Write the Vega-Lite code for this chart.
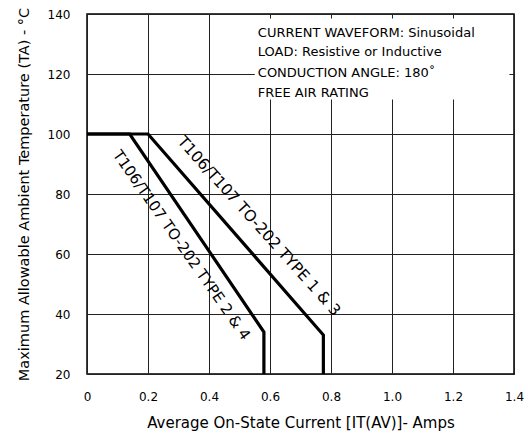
{
  "$schema": "https://vega.github.io/schema/vega-lite/v6.json",
  "autosize": "none",
  "width": 427,
  "height": 360,
  "padding": {"left": 87, "top": 14, "right": 14, "bottom": 63},
  "background": "white",
  "config": {
    "font": "DejaVu Sans",
    "view": {"stroke": "black", "strokeWidth": 1.5},
    "axis": {"gridColor": "#222", "gridOpacity": 1, "gridWidth": 1, "domain": false, "ticks": false, "labelColor": "black", "titleColor": "black", "labelFontSize": 12, "titleFontSize": 14.5, "titleFontWeight": "normal", "labelFlush": false}
  },
  "datasets": {
    "curves": [
      {"series": "Type 1 & 3", "ord": 1, "current": 0, "temp": 100},
      {"series": "Type 1 & 3", "ord": 2, "current": 0.2, "temp": 100},
      {"series": "Type 1 & 3", "ord": 3, "current": 0.775, "temp": 33},
      {"series": "Type 1 & 3", "ord": 4, "current": 0.775, "temp": 20},
      {"series": "Type 2 & 4", "ord": 1, "current": 0, "temp": 100},
      {"series": "Type 2 & 4", "ord": 2, "current": 0.14, "temp": 100},
      {"series": "Type 2 & 4", "ord": 3, "current": 0.58, "temp": 34},
      {"series": "Type 2 & 4", "ord": 4, "current": 0.58, "temp": 20}
    ],
    "box": [{"x1": 0.55, "x2": 1.385, "y1": 111.5, "y2": 138.5}],
    "notes": [
      {"current": 0.56, "temp": 133.8, "text": "CURRENT WAVEFORM: Sinusoidal"},
      {"current": 0.56, "temp": 127.2, "text": "LOAD: Resistive or Inductive"},
      {"current": 0.56, "temp": 120.4, "text": "CONDUCTION ANGLE: 180˚"},
      {"current": 0.56, "temp": 113.8, "text": "FREE AIR RATING"}
    ],
    "lab13": [{"current": 0.564, "temp": 69.3, "text": "T106/T107 TO-202 TYPE 1 & 3"}],
    "lab24": [{"current": 0.31, "temp": 63, "text": "T106/T107 TO-202 TYPE 2 & 4"}]
  },
  "layer": [
    {
      "data": {"name": "box"},
      "mark": {"type": "rect", "fill": "white"},
      "encoding": {
        "x": {"field": "x1", "type": "quantitative", "scale": {"domain": [0, 1.4]},
          "axis": {"values": [0, 0.2, 0.4, 0.6, 0.8, 1.0, 1.2, 1.4], "labelExpr": "datum.value == 0 ? '0' : format(datum.value, '.1f')", "labelPadding": 17, "title": "Average On-State Current [IT(AV)]- Amps", "titleFontSize": 15, "titlePadding": 13}},
        "x2": {"field": "x2"},
        "y": {"field": "y1", "type": "quantitative", "scale": {"domain": [20, 140]},
          "axis": {"values": [20, 40, 60, 80, 100, 120, 140], "labelPadding": 17, "title": "Maximum Allowable Ambient Temperature (TA) - °C", "titlePadding": 16}},
        "y2": {"field": "y2"}
      }
    },
    {
      "data": {"name": "curves"},
      "mark": {"type": "line", "color": "black", "strokeWidth": 3.2},
      "encoding": {
        "x": {"field": "current", "type": "quantitative"},
        "y": {"field": "temp", "type": "quantitative"},
        "detail": {"field": "series"},
        "order": {"field": "ord"}
      }
    },
    {
      "data": {"name": "notes"},
      "mark": {"type": "text", "align": "left", "baseline": "middle", "fontSize": 13, "color": "black"},
      "encoding": {
        "x": {"field": "current", "type": "quantitative"},
        "y": {"field": "temp", "type": "quantitative"},
        "text": {"field": "text"}
      }
    },
    {
      "data": {"name": "lab13"},
      "mark": {"type": "text", "align": "center", "baseline": "middle", "fontSize": 15.5, "angle": 48, "color": "black"},
      "encoding": {
        "x": {"field": "current", "type": "quantitative"},
        "y": {"field": "temp", "type": "quantitative"},
        "text": {"field": "text"}
      }
    },
    {
      "data": {"name": "lab24"},
      "mark": {"type": "text", "align": "center", "baseline": "middle", "fontSize": 15, "angle": 55, "color": "black"},
      "encoding": {
        "x": {"field": "current", "type": "quantitative"},
        "y": {"field": "temp", "type": "quantitative"},
        "text": {"field": "text"}
      }
    }
  ]
}
